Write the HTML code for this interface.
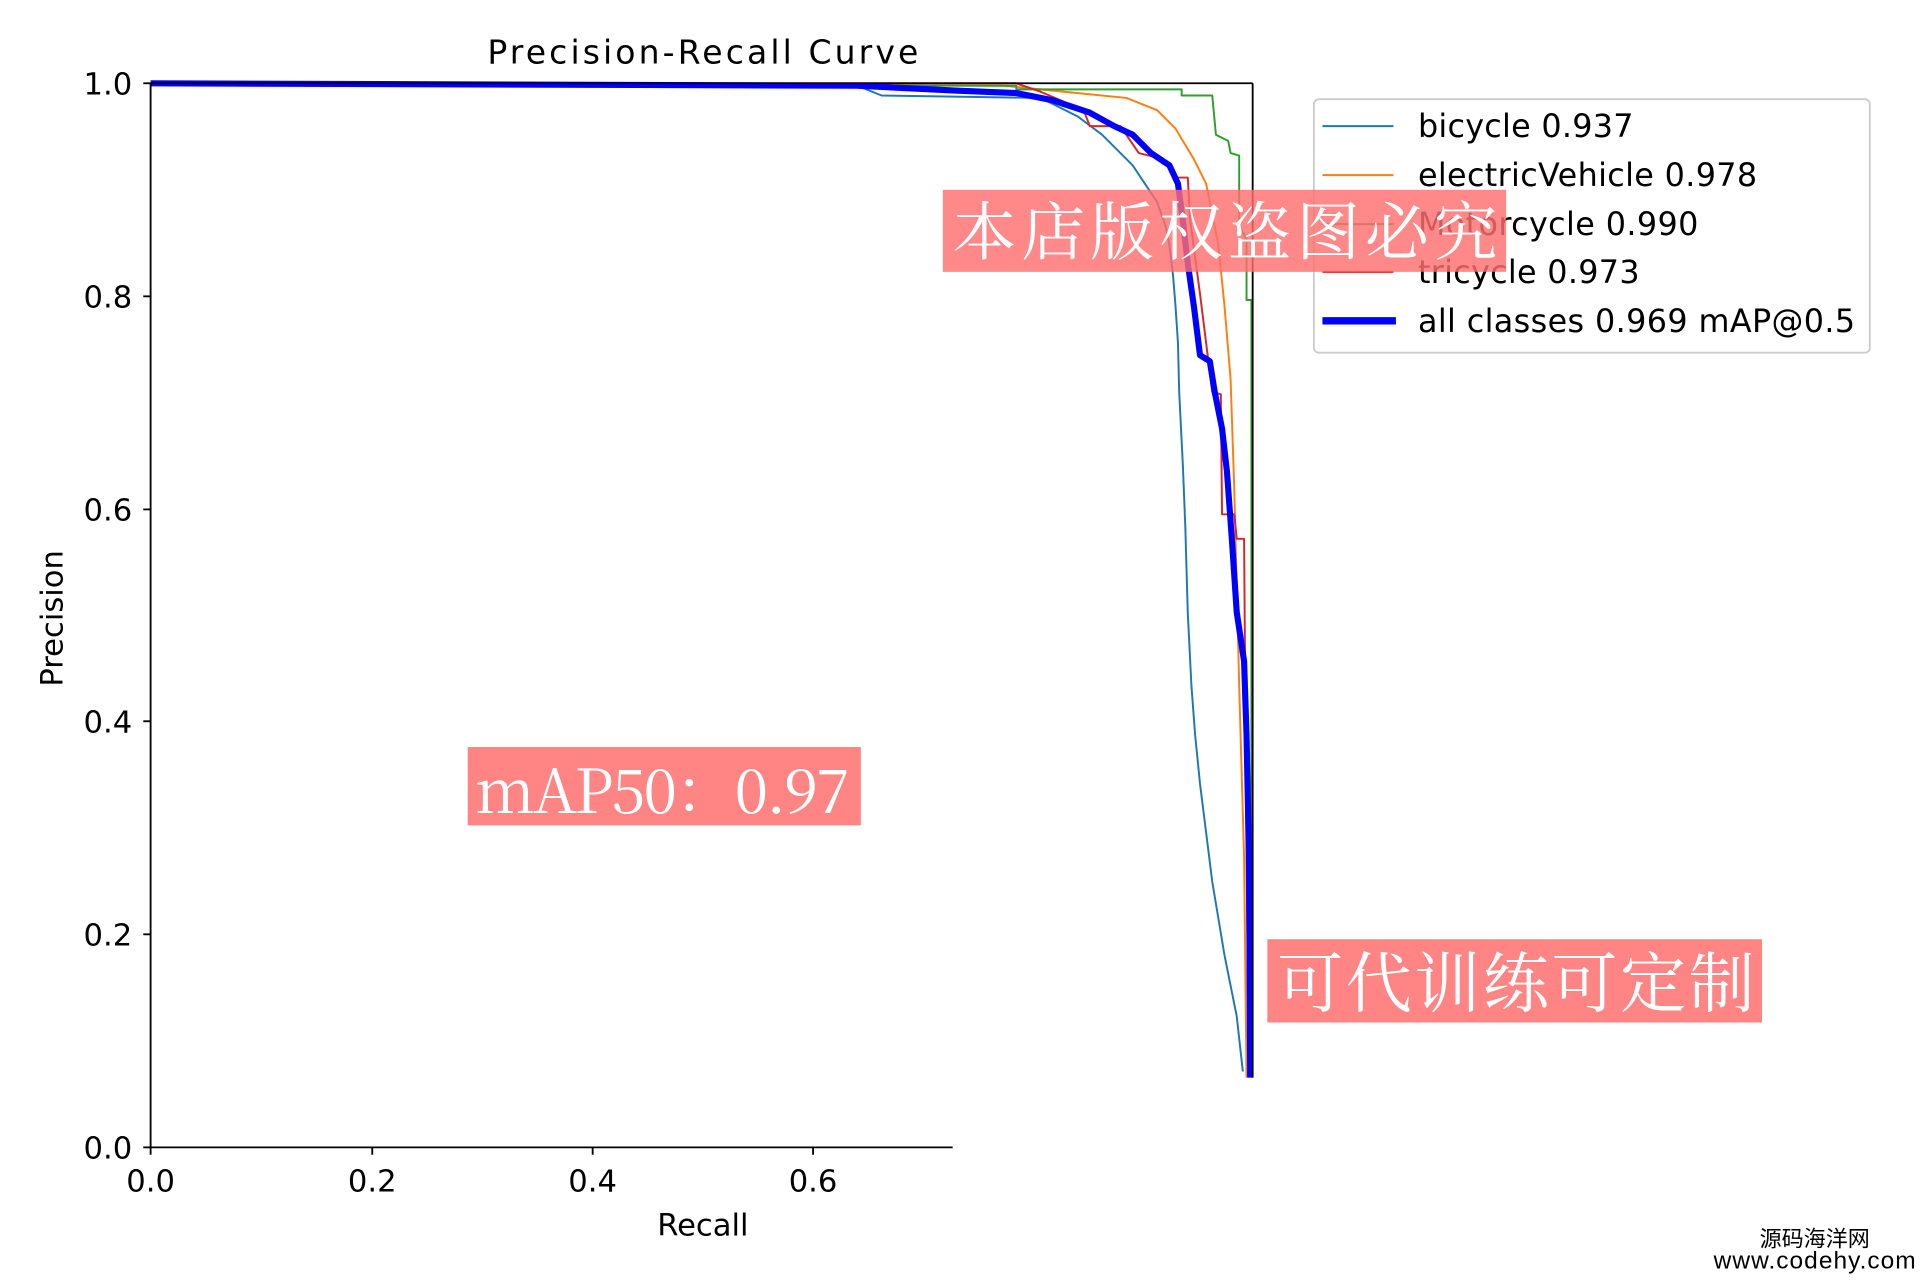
<!DOCTYPE html>
<html><head><meta charset="utf-8"><style>
html,body{margin:0;padding:0;background:#fff;}
svg{display:block;}
text{font-family:"DejaVu Sans","Liberation Sans",sans-serif;fill:#000;}
.wm{font-family:"Noto Serif CJK SC","Liberation Serif",serif;fill:#fff;}
</style></head><body>
<svg width="1920" height="1280" viewBox="0 0 1568 1045.3" preserveAspectRatio="none" xmlns="http://www.w3.org/2000/svg">
<rect width="1568" height="1046" fill="#fff"/>
<text x="398" y="52" font-size="27" textLength="352">Precision-Recall Curve</text>
<g fill="none" stroke-linejoin="round">
<polyline stroke="#1f77b4" stroke-width="1.6" points="123,68 700,70 720,78 850,80 880,95 900,110 915,125 925,135 935,150 945,165 952,185 955,200 958,225 960,250 962,280 963,320 966,380 968,430 970,500 973,560 976,600 980,640 985,680 990,720 1000,780 1010,830 1015,875"/>
<polyline stroke="#ff7f0e" stroke-width="1.6" points="123,68 820,70 870,75 920,80 945,90 960,105 975,130 985,150 995,200 1000,250 1005,310 1008,400 1012,560 1016,700 1018,880"/>
<polyline stroke="#2ca02c" stroke-width="1.6" points="123,68 830,70 830,73 965,73 965,78 990,78 993,110 1003,115 1005,125 1012,127 1012,185 1018,195 1018,245 1022,245 1022,880"/>
<polyline stroke="#d62728" stroke-width="1.6" points="123,68 830,68 850,75 885,90 890,103 915,103 930,125 950,130 960,145 970,145 972,180 980,240 990,320 997,322 998,420 1008,420 1010,440 1016,440 1018,700 1020,880"/>
<polyline stroke="#0000ff" stroke-width="5" points="123,68 700,70 780,74 830,76 860,82 890,92 910,103 925,110 940,125 955,135 962,150 966,180 970,215 975,250 980,290 988,295 992,320 998,350 1002,385 1006,440 1010,500 1016,540 1018,600 1020,700 1021,880"/>
</g>
<g stroke="#000" stroke-width="1.5" fill="none">
<line x1="123" y1="68" x2="123" y2="938"/>
<line x1="122" y1="937" x2="778" y2="937"/>
<line x1="123" y1="68" x2="1023" y2="68"/>
<line x1="1023" y1="68" x2="1023" y2="880"/>
<line x1="117" y1="68" x2="123" y2="68"/><line x1="117" y1="242" x2="123" y2="242"/><line x1="117" y1="416" x2="123" y2="416"/><line x1="117" y1="589" x2="123" y2="589"/><line x1="117" y1="763" x2="123" y2="763"/><line x1="117" y1="937" x2="123" y2="937"/>
<line x1="123" y1="937" x2="123" y2="943"/><line x1="304" y1="937" x2="304" y2="943"/><line x1="484" y1="937" x2="484" y2="943"/><line x1="664" y1="937" x2="664" y2="943"/>
</g>
<g font-size="25" text-anchor="end">
<text x="108" y="77">1.0</text><text x="108" y="251">0.8</text><text x="108" y="425">0.6</text><text x="108" y="598">0.4</text><text x="108" y="772">0.2</text><text x="108" y="946">0.0</text>
</g>
<g font-size="25" text-anchor="middle">
<text x="123" y="973">0.0</text><text x="304" y="973">0.2</text><text x="484" y="973">0.4</text><text x="664" y="973">0.6</text>
<text x="574" y="1009">Recall</text>
</g>
<text font-size="25" text-anchor="middle" transform="translate(51,505) rotate(-90)">Precision</text>
<rect x="1073" y="81" width="454" height="207" rx="4" fill="#fff" stroke="#ccc" stroke-width="1.5"/>
<g stroke-width="1.6">
<line x1="1080" y1="103" x2="1138" y2="103" stroke="#1f77b4"/>
<line x1="1080" y1="143" x2="1138" y2="143" stroke="#ff7f0e"/>
<line x1="1080" y1="183" x2="1138" y2="183" stroke="#2ca02c"/>
<line x1="1080" y1="222" x2="1138" y2="222" stroke="#d62728"/>
<line x1="1080" y1="262" x2="1140" y2="262" stroke="#0000ff" stroke-width="6"/>
</g>
<g font-size="26">
<text x="1158" y="112" textLength="176">bicycle 0.937</text>
<text x="1158" y="152" textLength="277">electricVehicle 0.978</text>
<text x="1158" y="192" textLength="229">Motorcycle 0.990</text>
<text x="1158" y="231" textLength="181">tricycle 0.973</text>
<text x="1158" y="271" textLength="357">all classes 0.969 mAP@0.5</text>
</g>
<rect x="770" y="155" width="460" height="67" fill="#ff6e6e" fill-opacity="0.82"/>
<text class="wm" x="778" y="208" font-size="52" textLength="445">本店版权盗图必究</text>
<rect x="382" y="610" width="321" height="64" fill="#ff6e6e" fill-opacity="0.85"/>
<text class="wm" x="388" y="664" font-size="50" textLength="306">mAP50：0.97</text>
<rect x="1035" y="767" width="404" height="68" fill="#ff6e6e" fill-opacity="0.85"/>
<text class="wm" x="1043" y="822" font-size="54" textLength="390">可代训练可定制</text>
<text x="1482" y="1018" font-size="18" text-anchor="middle" style="font-family:'Liberation Sans','Noto Sans CJK SC',sans-serif">源码海洋网</text>
<text x="1482" y="1036" font-size="20" text-anchor="middle" textLength="165" style="font-family:'Liberation Sans',sans-serif">www.codehy.com</text>
</svg>
</body></html>
